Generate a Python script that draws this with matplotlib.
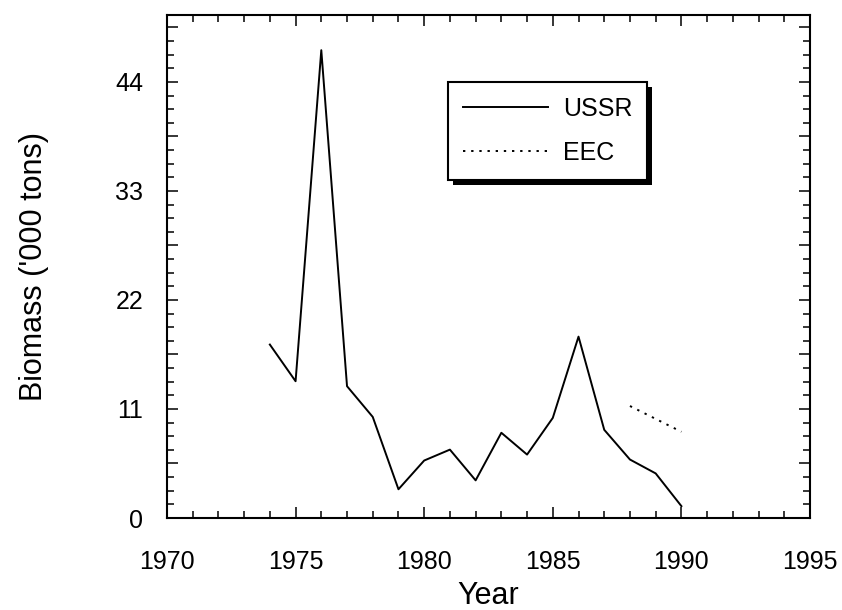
import numpy as np
import matplotlib
matplotlib.use('Agg')
import matplotlib.pyplot as plt
import matplotlib.patheffects as pe
from matplotlib.ticker import MultipleLocator, FuncFormatter

plt.rcParams['font.family'] = ['Liberation Sans', 'DejaVu Sans']

# data
years_ussr = [1974, 1975, 1976, 1977, 1978, 1979, 1980, 1981, 1982,
              1983, 1984, 1985, 1986, 1987, 1988, 1989, 1990]
biomass_ussr = [17.5, 13.8, 47.2, 13.3, 10.2, 2.9, 5.8, 6.9, 3.8,
                8.6, 6.4, 10.1, 18.3, 8.9, 5.9, 4.5, 1.2]
years_eec = [1988, 1989, 1990]
biomass_eec = [11.3, 10.0, 8.7]

fig = plt.figure(figsize=(8.42, 6.10), dpi=100)
ax = fig.add_axes([0.1983, 0.1508, 0.7637, 0.8246])

ax.plot(years_ussr, biomass_ussr, color='black', lw=1.4, label='USSR')
ax.plot(years_eec, biomass_eec, color='black', lw=1.4,
        linestyle=(0, (1.2, 3)), label='EEC')

ax.set_xlim(1970, 1995)
ax.set_ylim(0, 50.75)
ax.xaxis.set_major_locator(MultipleLocator(5))
ax.xaxis.set_minor_locator(MultipleLocator(1))
ax.yaxis.set_major_locator(MultipleLocator(5.5))
ax.yaxis.set_minor_locator(MultipleLocator(1.375))
ax.yaxis.set_major_formatter(FuncFormatter(
    lambda v, p: '%d' % round(v) if abs(v / 11 - round(v / 11)) < 1e-6 else ''))

ax.tick_params(which='both', direction='in', top=True, right=True,
               width=1.1, labelsize=18)
ax.tick_params(which='major', length=8)
ax.tick_params(which='minor', length=5)
ax.tick_params(axis='x', which='major', pad=23)
ax.tick_params(axis='y', which='major', pad=17)
for s in ax.spines.values():
    s.set_linewidth(1.5)

ax.set_xlabel('Year', fontsize=22, labelpad=5)
ax.set_ylabel("Biomass ('000 tons)", fontsize=22, labelpad=48)

lg = ax.legend(loc='upper left', bbox_to_anchor=(0.437, 0.867), borderaxespad=0,
               fancybox=False, frameon=True, prop={'size': 18},
               handlelength=3.4, handletextpad=0.6, labelspacing=0.8,
               borderpad=0.6)
frame = lg.get_frame()
frame.set_edgecolor('black')
frame.set_linewidth(1.5)
frame.set_alpha(1.0)
frame.set_path_effects([pe.SimplePatchShadow(offset=(3.5, -3.5),
                                             shadow_rgbFace='black', alpha=1),
                        pe.Normal()])

plt.savefig('out.png', dpi=100)
plt.close()
